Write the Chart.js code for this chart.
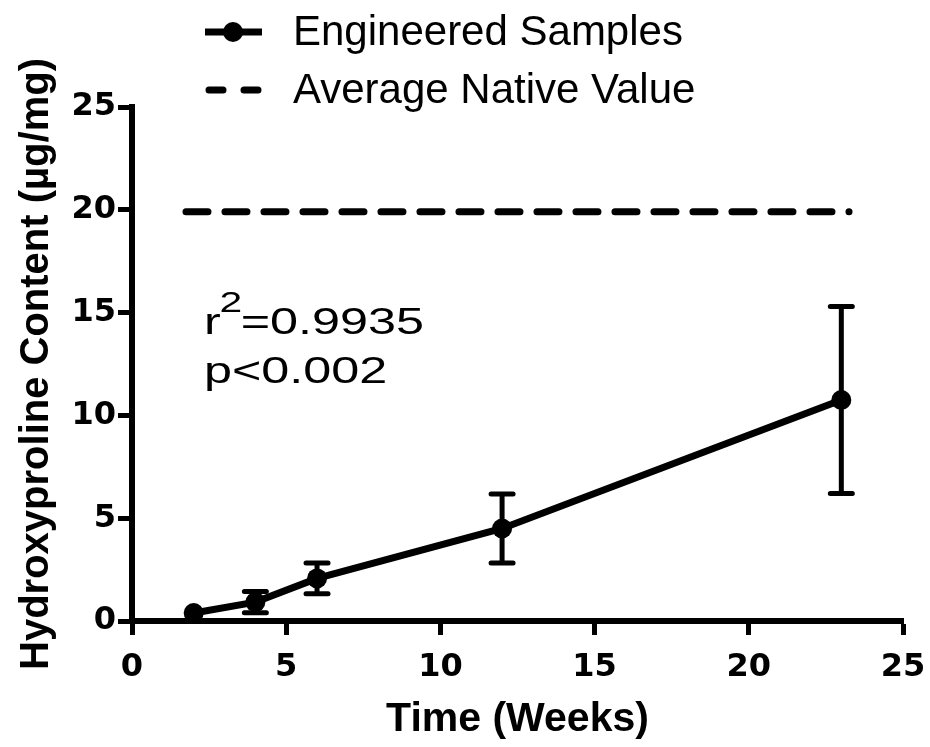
<!DOCTYPE html>
<html>
<head>
<meta charset="utf-8">
<script src="https://cdn.jsdelivr.net/npm/chart.js@4.4.1/dist/chart.umd.min.js"></script>
<style>
    html, body { margin: 0; padding: 0; background: #fff; }
    canvas { display: block; }
</style>
</head>
<body>
<canvas id="hyp-chart" width="930" height="747"></canvas>
<script>
// Values
const weeks = [2, 4, 6, 12, 23];
const hypContent = [0.39, 0.92, 2.07, 4.5, 10.75];
const hypError = [0, 0.52, 0.75, 1.68, 4.55];
const nativeSpan = [1.75, 23.25];
const nativeAverage = 19.9;
const seriesLabels = ['Engineered Samples', 'Average Native Value'];
const rSquared = '0.9935';
const pValue = '0.002';

const axisMin = 0;
const axisMax = 25;
const axisStep = 5;

// error bars for the engineered samples
const errorBars = {
    id: 'errorBars',
    afterDatasetsDraw(chart) {
        const { ctx, scales } = chart;
        const x = scales.x;
        const y = scales.y;
        ctx.save();
        ctx.strokeStyle = '#000';
        ctx.lineWidth = 5;
        ctx.lineCap = 'round';
        weeks.forEach((wk, i) => {
            if (!hypError[i]) return;
            const px = x.getPixelForValue(wk);
            const top = y.getPixelForValue(hypContent[i] + hypError[i]);
            const bot = y.getPixelForValue(hypContent[i] - hypError[i]);
            ctx.beginPath();
            ctx.moveTo(px, top);
            ctx.lineTo(px, bot);
            ctx.moveTo(px - 11, top);
            ctx.lineTo(px + 11, top);
            ctx.moveTo(px - 11, bot);
            ctx.lineTo(px + 11, bot);
            ctx.stroke();
        });
        ctx.restore();
    },
};

// legend in the top left corner, like the original
const topLegend = {
    id: 'topLegend',
    afterDraw(chart) {
        const ctx = chart.ctx;
        const rows = [32, 90];
        ctx.save();
        chart.data.datasets.forEach((ds, i) => {
            const yy = rows[i];
            ctx.strokeStyle = '#000';
            ctx.lineWidth = 7;
            ctx.beginPath();
            if (i === 0) {
                ctx.lineCap = 'butt';
                ctx.moveTo(205, yy);
                ctx.lineTo(262, yy);
            } else {
                ctx.lineCap = 'round';
                ctx.moveTo(209, yy);
                ctx.lineTo(223, yy);
                ctx.moveTo(244, yy);
                ctx.lineTo(258, yy);
            }
            ctx.stroke();
            if (i === 0) {
                ctx.beginPath();
                ctx.arc(233, yy, 10, 0, Math.PI * 2);
                ctx.fillStyle = '#000';
                ctx.fill();
            }
            ctx.fillStyle = '#000';
            ctx.font = '42px "Liberation Sans", Arial, sans-serif';
            ctx.textBaseline = 'alphabetic';
            ctx.textAlign = 'left';
            ctx.fillText(ds.label, 293, yy + 13);
        });
        ctx.restore();
    },
};

// r squared and p value
const statsNote = {
    id: 'statsNote',
    afterDraw(chart) {
        const ctx = chart.ctx;
        const stretch = 1.36;
        ctx.save();
        ctx.fillStyle = '#000';
        ctx.textBaseline = 'alphabetic';
        ctx.textAlign = 'left';
        ctx.translate(204, 0);
        ctx.scale(stretch, 1);
        ctx.font = '37px "Liberation Sans", Arial, sans-serif';
        ctx.fillText('r', 0, 334);
        let w = ctx.measureText('r').width;
        ctx.font = '30px "Liberation Sans", Arial, sans-serif';
        ctx.fillText('2', w - 1, 312);
        w += ctx.measureText('2').width - 2;
        ctx.font = '37px "Liberation Sans", Arial, sans-serif';
        ctx.fillText('=' + rSquared, w, 334);
        ctx.fillText('p<' + pValue, 0, 383);
        ctx.restore();
    },
};

const data = {
    datasets: [
        {
            label: seriesLabels[0],
            data: weeks.map((wk, i) => ({ x: wk, y: hypContent[i] })),
            borderColor: '#000',
            backgroundColor: '#000',
            borderWidth: 7,
            pointRadius: 10,
            pointHoverRadius: 10,
            pointBorderWidth: 0,
            tension: 0,
        },
        {
            label: seriesLabels[1],
            data: nativeSpan.map((wk) => ({ x: wk, y: nativeAverage })),
            borderColor: '#000',
            borderWidth: 7,
            borderDash: [22, 17],
            borderCapStyle: 'round',
            pointRadius: 0,
        },
    ],
};

const tickFont = { family: '"DejaVu Sans", sans-serif', size: 32, weight: 'bold' };

const config = {
    type: 'line',
    data: data,
    plugins: [errorBars, topLegend, statsNote],
    options: {
        responsive: false,
        animation: false,
        layout: {
            padding: { top: 107, right: 27, left: 0, bottom: 0 },
        },
        plugins: {
            legend: { display: false },
            tooltip: { enabled: false },
        },
        scales: {
            x: {
                type: 'linear',
                min: axisMin,
                max: axisMax,
                ticks: {
                    stepSize: axisStep,
                    color: '#000',
                    font: tickFont,
                    padding: 13,
                    maxRotation: 0,
                },
                grid: {
                    drawOnChartArea: false,
                    drawTicks: true,
                    tickLength: 14,
                    tickWidth: 5,
                    tickColor: '#000',
                },
                border: { display: true, color: '#000', width: 6 },
                title: {
                    display: true,
                    text: 'Time (Weeks)',
                    color: '#000',
                    font: { family: '"Liberation Sans", Arial, sans-serif', size: 41, weight: 'bold' },
                    padding: { top: 0, bottom: 3 },
                },
                afterFit: (scale) => {
                    scale.height = 126;
                    scale.paddingRight = 0;
                    scale.paddingLeft = 0;
                },
            },
            y: {
                min: axisMin,
                max: axisMax,
                ticks: {
                    stepSize: axisStep,
                    color: '#000',
                    font: tickFont,
                    padding: 2,
                },
                grid: {
                    drawOnChartArea: false,
                    drawTicks: true,
                    tickLength: 14,
                    tickWidth: 5,
                    tickColor: '#000',
                },
                border: { display: true, color: '#000', width: 6 },
                title: {
                    display: true,
                    text: 'Hydroxyproline Content (µg/mg)',
                    color: '#000',
                    font: { family: '"Liberation Sans", Arial, sans-serif', size: 40, weight: 'bold' },
                    padding: { top: 13, bottom: 0 },
                },
                afterFit: (scale) => {
                    scale.width = 132;
                },
            },
        },
    },
};

const hypChart = new Chart(document.getElementById('hyp-chart'), config);
</script>
</body>
</html>
